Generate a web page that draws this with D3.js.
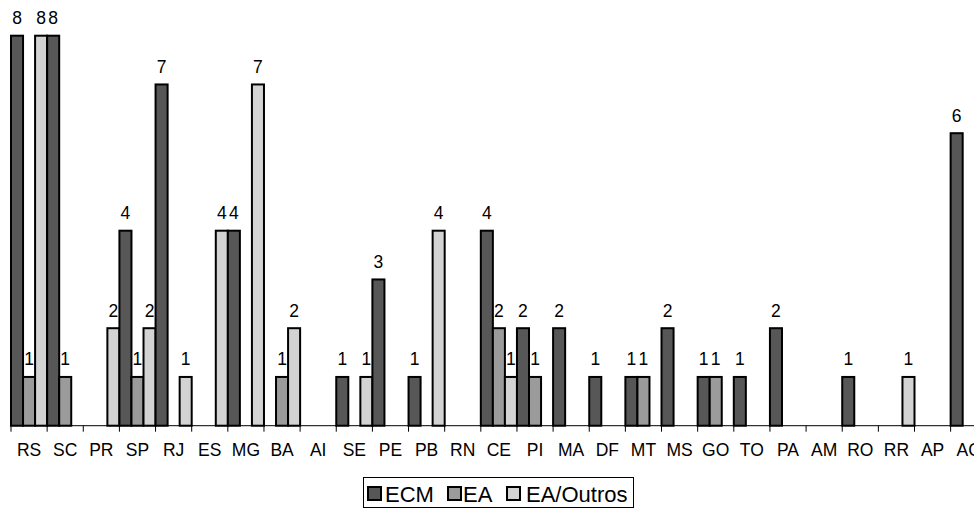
<!DOCTYPE html>
<html>
<head>
<meta charset="utf-8">
<script src="https://cdn.jsdelivr.net/npm/d3@7"></script>
<style>
html,body{margin:0;padding:0;background:#fff;overflow:hidden;}
svg{display:block;font-family:"Liberation Sans",Arial,sans-serif;}
</style>
</head>
<body>
<svg id="chart" width="974" height="509"></svg>
<script>
const categories = ["RS","SC","PR","SP","RJ","ES","MG","BA","AI","SE","PE","PB","RN","CE","PI","MA","DF","MT","MS","GO","TO","PA","AM","RO","RR","AP","AC"];
const seriesNames = ["ECM","EA","EA/Outros"];
const ecm    = [8,8,0,4,7,0,4,0,0,1,3,1,0,4,2,2,1,1,2,1,1,2,0,1,0,0,6];
const ea     = [1,1,0,1,0,0,0,1,0,0,0,0,0,2,1,0,0,1,0,1,0,0,0,0,0,0,0];
const outros = [8,0,2,2,1,4,7,2,0,1,0,4,0,1,0,0,0,0,0,0,0,0,0,0,1,0,0];
const colors = ["#575757","#9b9b9b","#d3d3d3"];

const svg = d3.select("#chart");
const band = 36.14;
const x0 = 11;
const x = d3.scaleBand().domain(categories).range([x0, x0 + band*categories.length]).paddingInner(0).paddingOuter(0);
const xs = d3.scaleBand().domain(seriesNames).range([0, x.bandwidth()]).padding(0);
const y = d3.scaleLinear().domain([0, 8]).range([425.7, 35.7]);

const seriesVals = [ecm, ea, outros];
const data = [];
categories.forEach((c,i)=>{
  seriesNames.forEach((s,j)=>{
    data.push({cat:c, ser:s, idx:j, v:seriesVals[j][i]});
  });
});

// bars
svg.append("g").selectAll("rect").data(data.filter(d=>d.v>0)).join("rect")
  .attr("x", d=>x(d.cat)+xs(d.ser))
  .attr("y", d=>y(d.v))
  .attr("width", xs.bandwidth())
  .attr("height", d=>y(0)-y(d.v))
  .attr("fill", d=>colors[d.idx])
  .attr("stroke", "#000")
  .attr("stroke-width", 2);

// labels
svg.append("g").selectAll("text").data(data.filter(d=>d.v>0)).join("text")
  .attr("x", d=>x(d.cat)+xs(d.ser)+xs.bandwidth()/2)
  .attr("y", d=>y(d.v)-11.5)
  .attr("text-anchor","middle")
  .attr("font-size", 17.5)
  .attr("fill","#000")
  .text(d=>d.v);

// x axis
const axis = d3.axisBottom(x).tickSize(0).tickPadding(0);
const gx = svg.append("g").attr("transform", `translate(0,${y(0)})`).call(axis);
gx.select(".domain").attr("d", `M${x0},0H974`).attr("stroke","#000").attr("stroke-width",1);
gx.selectAll(".tick text").attr("font-size", 17.5).attr("font-family","Liberation Sans, Arial, sans-serif").attr("fill","#000").attr("dy", null).attr("y", 30.5);
// tick marks at band boundaries
const bounds = categories.map(c=>x(c)).concat([x.range()[1]]);
gx.append("g").selectAll("line").data(bounds).join("line")
  .attr("x1", d=>d).attr("x2", d=>d).attr("y1",0).attr("y2",6)
  .attr("stroke","#000").attr("stroke-width",1);

// legend
const lg = svg.append("g");
lg.append("rect").attr("x",363.5).attr("y",477.5).attr("width",270).attr("height",30)
  .attr("fill","#fff").attr("stroke","#000").attr("stroke-width",1);
const legendItems = [
  {name:seriesNames[0], mx:368, tx:385},
  {name:seriesNames[1], mx:448, tx:463},
  {name:seriesNames[2], mx:507, tx:526}
];
legendItems.forEach((it,i)=>{
  lg.append("rect").attr("x",it.mx).attr("y",487).attr("width",13).attr("height",13)
    .attr("fill",colors[i]).attr("stroke","#000").attr("stroke-width",2);
  lg.append("text").attr("x",it.tx).attr("y",501.5).attr("font-size",22).attr("fill","#000").text(it.name);
});
</script>
</body>
</html>
